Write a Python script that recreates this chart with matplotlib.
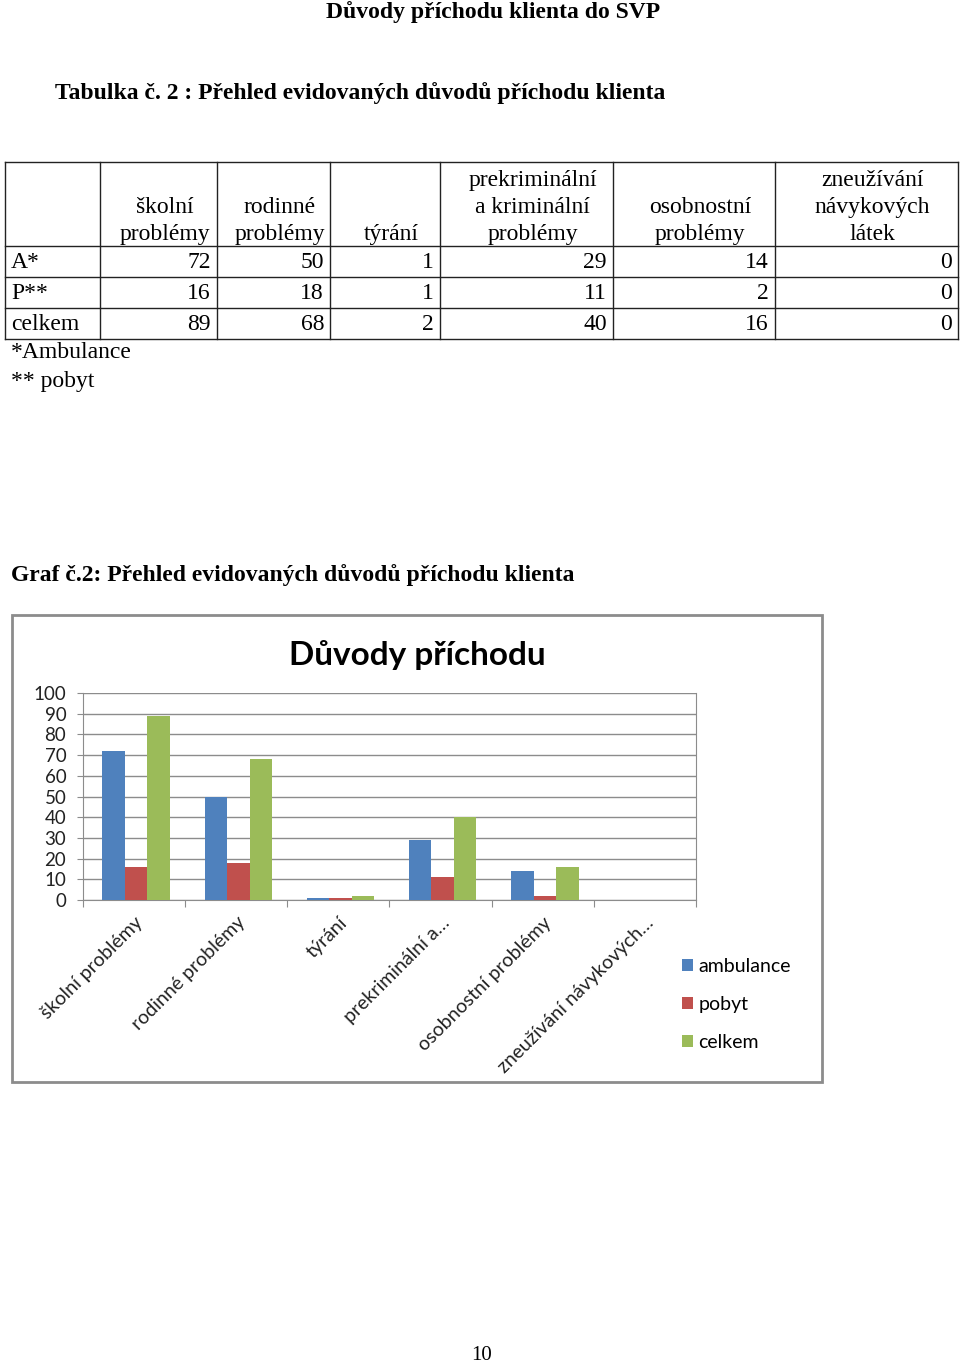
import matplotlib.pyplot as plt
import matplotlib.patches as patches
import numpy as np

categories = ['školní problémy', 'rodinné problémy', 'týrání',
              'prekriminální a kriminální problémy', 'osobnostní problémy',
              'zneužívání návykových látek']
tick_labels = ['školní problémy', 'rodinné problémy', 'týrání',
               'prekriminální a…', 'osobnostní problémy',
               'zneužívání návykových…']
header_labels = ['školní\nproblémy', 'rodinné\nproblémy', 'týrání',
                 'prekriminální\na kriminální\nproblémy', 'osobnostní\nproblémy',
                 'zneužívání\nnávykových\nlátek']
row_labels = ['A*', 'P**', 'celkem']
ambulance = [72, 50, 1, 29, 14, 0]
pobyt = [16, 18, 1, 11, 2, 0]
celkem = [89, 68, 2, 40, 16, 0]
series_names = ['ambulance', 'pobyt', 'celkem']
colors = ['#4F81BD', '#C0504D', '#9BBB59']

serif = 'Liberation Serif'
sans = 'Lato'
fs = 17

fig = plt.figure(figsize=(9.6, 13.63), dpi=100)
page = fig.add_axes([0, 0, 1, 1])
page.set_xlim(0, 960)
page.set_ylim(1363, 0)
page.axis('off')

# page texts
page.text(493, 12, 'Důvody příchodu klienta do SVP', family=serif, weight='bold',
          fontsize=fs, ha='center', va='center')
page.text(55, 93, 'Tabulka č. 2 : Přehled evidovaných důvodů příchodu klienta',
          family=serif, weight='bold', fontsize=fs, ha='left', va='center')

# table
col_x = [5, 100, 217, 330, 440, 613, 775, 958]
row_y = [162, 246, 277, 308, 339]
for x in col_x:
    page.plot([x, x], [row_y[0], row_y[-1]], color='#222222', lw=1)
for y in row_y:
    page.plot([col_x[0], col_x[-1]], [y, y], color='#222222', lw=1)

for i, lab in enumerate(header_labels):
    cx = (col_x[i + 1] + col_x[i + 2]) / 2 + 6
    page.text(cx, 245, lab, family=serif, fontsize=fs, ha='center', va='bottom',
              multialignment='center', linespacing=1.38)

table_rows = [ambulance, pobyt, celkem]
for r, (lab, vals) in enumerate(zip(row_labels, table_rows)):
    cy = (row_y[r + 1] + row_y[r + 2]) / 2 + 1
    page.text(11, cy, lab, family=serif, fontsize=fs, ha='left', va='center')
    for c, v in enumerate(vals):
        page.text(col_x[c + 2] - 6, cy, str(v), family=serif, fontsize=fs,
                  ha='right', va='center')

page.text(11, 353, '*Ambulance', family=serif, fontsize=fs, ha='left', va='center')
page.text(11, 381, '** pobyt', family=serif, fontsize=fs, ha='left', va='center')

page.text(11, 575, 'Graf č.2: Přehled evidovaných důvodů příchodu klienta',
          family=serif, weight='bold', fontsize=fs, ha='left', va='center')

# chart frame
page.add_patch(patches.Rectangle((12, 615), 810, 467, fill=False,
                                 edgecolor='#8c8c8c', lw=2))
page.text(417, 655, 'Důvody příchodu', family=sans, weight='bold', fontsize=24,
          ha='center', va='center')

page.text(482, 1356, '10', family=serif, fontsize=15, ha='center', va='center')

# chart axes
W, H = 960, 1363
ax = fig.add_axes([83 / W, 1 - 900 / H, (696 - 83) / W, (900 - 693) / H])
x = np.arange(len(categories))
bw = 0.22
for k, (vals, name, col) in enumerate(zip([ambulance, pobyt, celkem], series_names, colors)):
    ax.bar(x + (k - 1) * bw + 0.02, vals, bw, color=col, label=name, zorder=3)

ax.set_xlim(-0.5, len(categories) - 0.5)
ax.set_ylim(0, 100)
ax.set_yticks(np.arange(0, 101, 10))
ax.yaxis.grid(True, color='#8c8c8c', lw=1)
ax.set_axisbelow(True)
for s in ['top', 'left', 'right', 'bottom']:
    ax.spines[s].set_color('#8c8c8c')
ax.spines['top'].set_visible(False)
ax.tick_params(axis='y', labelsize=13.5, length=4, color='#8c8c8c', pad=8)
for t in ax.get_yticklabels():
    t.set_family(sans)
    t.set_color('#222222')

ax.set_xticks(np.arange(-0.5, len(categories), 1), minor=False)
ax.set_xticklabels([])
ax.tick_params(axis='x', length=5, color='#8c8c8c')
ax.set_xticks(x, minor=True)
ax.set_xticklabels(tick_labels, minor=True, rotation=45, ha='right',
                   rotation_mode='anchor', fontsize=14, family=sans, color='#222222')
ax.tick_params(axis='x', which='minor', length=0, pad=10)

handles, labels = ax.get_legend_handles_labels()
fig.legend(handles, labels, loc='upper left', bbox_to_anchor=(674 / W, 1 - 950 / H),
           frameon=False, prop={'family': sans, 'size': 14}, handlelength=0.6,
           handleheight=0.6, handletextpad=0.25, labelspacing=1.08, borderaxespad=0)

fig.savefig('out.png', dpi=100)
